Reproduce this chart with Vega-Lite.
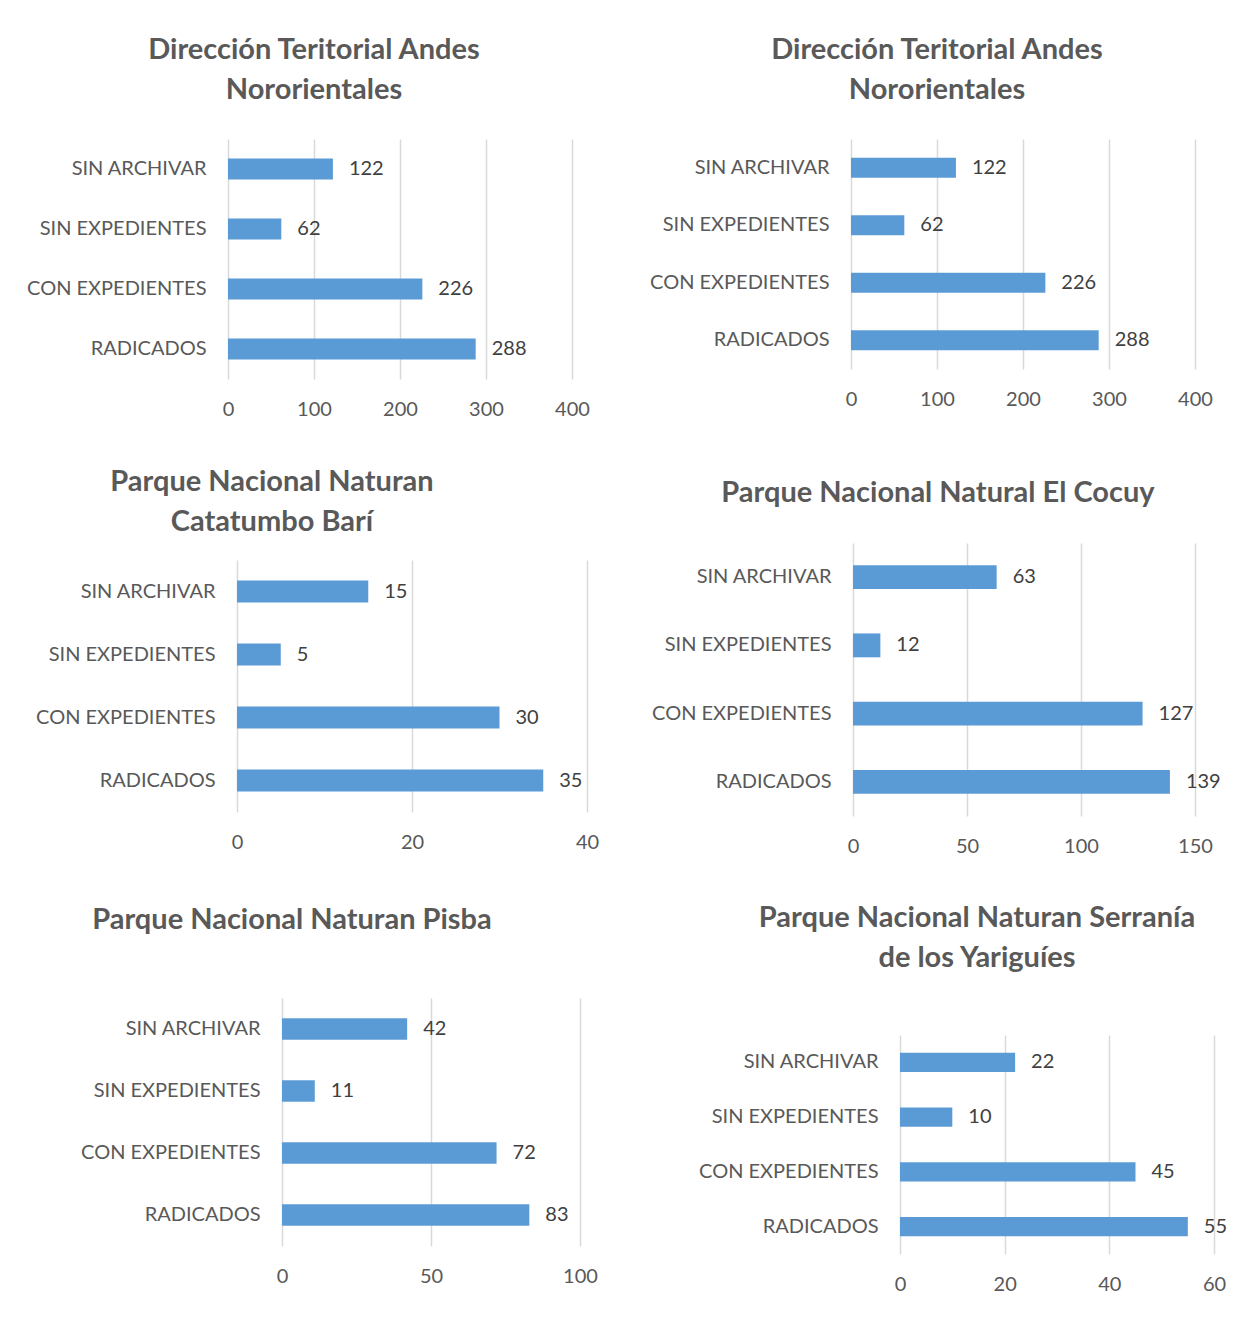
{
  "$schema": "https://vega.github.io/schema/vega-lite/v6.json",
  "padding": {"left": 23, "top": 36, "right": 5, "bottom": 5},
  "background": "white",
  "datasets": {
    "d": [
      {"panel": 1, "cat": "SIN ARCHIVAR", "value": 122},
      {"panel": 1, "cat": "SIN EXPEDIENTES", "value": 62},
      {"panel": 1, "cat": "CON EXPEDIENTES", "value": 226},
      {"panel": 1, "cat": "RADICADOS", "value": 288},
      {"panel": 2, "cat": "SIN ARCHIVAR", "value": 122},
      {"panel": 2, "cat": "SIN EXPEDIENTES", "value": 62},
      {"panel": 2, "cat": "CON EXPEDIENTES", "value": 226},
      {"panel": 2, "cat": "RADICADOS", "value": 288},
      {"panel": 3, "cat": "SIN ARCHIVAR", "value": 15},
      {"panel": 3, "cat": "SIN EXPEDIENTES", "value": 5},
      {"panel": 3, "cat": "CON EXPEDIENTES", "value": 30},
      {"panel": 3, "cat": "RADICADOS", "value": 35},
      {"panel": 4, "cat": "SIN ARCHIVAR", "value": 63},
      {"panel": 4, "cat": "SIN EXPEDIENTES", "value": 12},
      {"panel": 4, "cat": "CON EXPEDIENTES", "value": 127},
      {"panel": 4, "cat": "RADICADOS", "value": 139},
      {"panel": 5, "cat": "SIN ARCHIVAR", "value": 42},
      {"panel": 5, "cat": "SIN EXPEDIENTES", "value": 11},
      {"panel": 5, "cat": "CON EXPEDIENTES", "value": 72},
      {"panel": 5, "cat": "RADICADOS", "value": 83},
      {"panel": 6, "cat": "SIN ARCHIVAR", "value": 22},
      {"panel": 6, "cat": "SIN EXPEDIENTES", "value": 10},
      {"panel": 6, "cat": "CON EXPEDIENTES", "value": 45},
      {"panel": 6, "cat": "RADICADOS", "value": 55}
    ]
  },
  "data": {"name": "d"},
  "hconcat": [
    {
      "vconcat": [
        {
          "title": {"text": ["Dirección Teritorial Andes", "Nororientales"], "dx": -86, "offset": 34},
          "width": 344, "height": 240,
          "transform": [{"filter": "datum.panel == 1"}],
          "encoding": {
            "y": {"field": "cat", "type": "nominal", "sort": ["SIN ARCHIVAR", "SIN EXPEDIENTES", "CON EXPEDIENTES", "RADICADOS"], "title": null, "scale": {"paddingInner": 0.65, "paddingOuter": 0.325}, "axis": {"minExtent": 205, "maxExtent": 205}},
            "x": {"field": "value", "type": "quantitative", "title": null, "scale": {"domain": [0, 400], "nice": false, "zero": false}, "axis": {"values": [0, 100, 200, 300, 400]}}
          },
          "layer": [
            {"mark": {"type": "bar"}},
            {"mark": {"type": "text", "align": "left", "dx": 16}, "encoding": {"text": {"field": "value", "type": "quantitative"}}}
          ]
        },
        {
          "vconcat": [
            {
              "title": {"text": ["Parque Nacional Naturan", "Catatumbo Barí"], "dx": -135.5, "offset": 23},
              "width": 359, "height": 252,
              "transform": [{"filter": "datum.panel == 3"}],
              "encoding": {
                "y": {"field": "cat", "type": "nominal", "sort": ["SIN ARCHIVAR", "SIN EXPEDIENTES", "CON EXPEDIENTES", "RADICADOS"], "title": null, "scale": {"paddingInner": 0.65, "paddingOuter": 0.325}, "axis": {"offset": -9, "minExtent": 150, "maxExtent": 150}},
                "x": {"field": "value", "type": "quantitative", "title": null, "scale": {"domain": [-1.03, 40], "nice": false, "zero": false}, "axis": {"values": [0, 20, 40]}}
              },
              "layer": [
                {"mark": {"type": "bar"}},
                {"mark": {"type": "text", "align": "left", "dx": 16}, "encoding": {"text": {"field": "value", "type": "quantitative"}}}
              ]
            },
            {
              "title": {"text": "Parque Nacional Naturan Pisba", "dx": -112, "offset": 63},
              "width": 352, "height": 248,
              "transform": [{"filter": "datum.panel == 5"}],
              "encoding": {
                "y": {"field": "cat", "type": "nominal", "sort": ["SIN ARCHIVAR", "SIN EXPEDIENTES", "CON EXPEDIENTES", "RADICADOS"], "title": null, "scale": {"paddingInner": 0.65, "paddingOuter": 0.325}, "axis": {"offset": -54, "minExtent": 150, "maxExtent": 150}},
                "x": {"field": "value", "type": "quantitative", "title": null, "scale": {"domain": [-18.12, 100], "nice": false, "zero": false}, "axis": {"values": [0, 50, 100]}}
              },
              "layer": [
                {"mark": {"type": "bar"}},
                {"mark": {"type": "text", "align": "left", "dx": 16}, "encoding": {"text": {"field": "value", "type": "quantitative"}}}
              ]
            }
          ],
          "spacing": 54
        }
      ],
      "spacing": 49
    },
    {
      "vconcat": [
        {
          "title": {"text": ["Dirección Teritorial Andes", "Nororientales"], "dx": -86, "offset": 34},
          "width": 344, "height": 230,
          "transform": [{"filter": "datum.panel == 2"}],
          "encoding": {
            "y": {"field": "cat", "type": "nominal", "sort": ["SIN ARCHIVAR", "SIN EXPEDIENTES", "CON EXPEDIENTES", "RADICADOS"], "title": null, "scale": {"paddingInner": 0.65, "paddingOuter": 0.325}, "axis": {"minExtent": 205, "maxExtent": 205}},
            "x": {"field": "value", "type": "quantitative", "title": null, "scale": {"domain": [0, 400], "nice": false, "zero": false}, "axis": {"values": [0, 100, 200, 300, 400]}}
          },
          "layer": [
            {"mark": {"type": "bar"}},
            {"mark": {"type": "text", "align": "left", "dx": 16}, "encoding": {"text": {"field": "value", "type": "quantitative"}}}
          ]
        },
        {
          "vconcat": [
            {
              "title": {"text": "Parque Nacional Natural El Cocuy", "dx": -85, "offset": 35},
              "width": 344, "height": 273,
              "transform": [{"filter": "datum.panel == 4"}],
              "encoding": {
                "y": {"field": "cat", "type": "nominal", "sort": ["SIN ARCHIVAR", "SIN EXPEDIENTES", "CON EXPEDIENTES", "RADICADOS"], "title": null, "scale": {"paddingInner": 0.65, "paddingOuter": 0.325}, "axis": {"offset": -2, "minExtent": 150, "maxExtent": 150}},
                "x": {"field": "value", "type": "quantitative", "title": null, "scale": {"domain": [-0.88, 150], "nice": false, "zero": false}, "axis": {"values": [0, 50, 100, 150]}}
              },
              "layer": [
                {"mark": {"type": "bar"}},
                {"mark": {"type": "text", "align": "left", "dx": 16}, "encoding": {"text": {"field": "value", "type": "quantitative"}}}
              ]
            },
            {
              "title": {"text": ["Parque Nacional Naturan Serranía", "de los Yariguíes"], "dx": -55.5, "offset": 62},
              "width": 363, "height": 219,
              "transform": [{"filter": "datum.panel == 6"}],
              "encoding": {
                "y": {"field": "cat", "type": "nominal", "sort": ["SIN ARCHIVAR", "SIN EXPEDIENTES", "CON EXPEDIENTES", "RADICADOS"], "title": null, "scale": {"paddingInner": 0.65, "paddingOuter": 0.325}, "axis": {"offset": -49, "minExtent": 150, "maxExtent": 150}},
                "x": {"field": "value", "type": "quantitative", "title": null, "scale": {"domain": [-9.36, 60], "nice": false, "zero": false}, "axis": {"values": [0, 20, 40, 60]}}
              },
              "layer": [
                {"mark": {"type": "bar"}},
                {"mark": {"type": "text", "align": "left", "dx": 16}, "encoding": {"text": {"field": "value", "type": "quantitative"}}}
              ]
            }
          ],
          "spacing": 48
        }
      ],
      "spacing": 70
    }
  ],
  "spacing": 47,
  "config": {
    "font": "Lato",
    "view": {"stroke": null},
    "title": {"font": "Lato", "fontSize": 29, "fontWeight": "bold", "color": "#595959", "lineHeight": 40, "anchor": "middle", "frame": "group"},
    "bar": {"color": "#5b9bd5"},
    "text": {"font": "Lato", "fontSize": 20, "color": "#404040", "baseline": "middle"},
    "axisY": {"domain": false, "ticks": false, "grid": false, "labelFont": "Lato", "labelFontSize": 20, "labelColor": "#595959", "labelPadding": 22, "labelLimit": 300},
    "axisX": {"domain": false, "ticks": false, "grid": true, "gridColor": "#d9d9d9", "gridWidth": 1.5, "labelFont": "Lato", "labelFontSize": 20, "labelColor": "#595959", "labelPadding": 20, "labelFlush": false}
  }
}
